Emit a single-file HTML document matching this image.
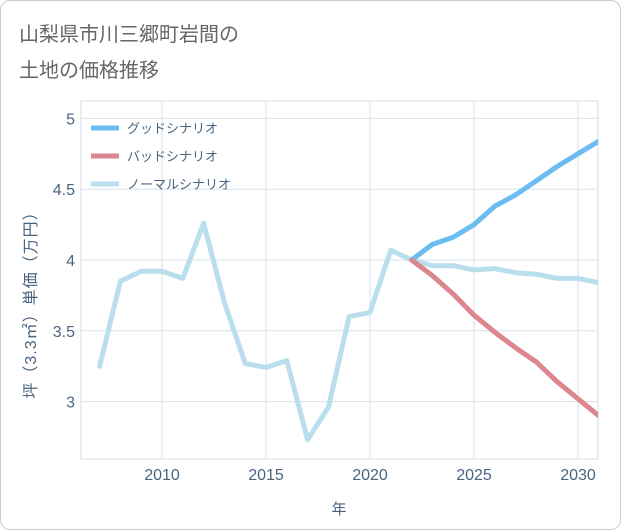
<!DOCTYPE html>
<html><head><meta charset="utf-8">
<style>
body{margin:0;background:#fff;}
#card{position:absolute;left:0;top:0;width:619px;height:528px;border:1px solid #ccc;border-radius:10px;background:#fff;overflow:hidden;}
svg{position:absolute;left:0;top:0;}
text{font-family:"Liberation Sans","Noto Sans CJK JP",sans-serif;}
</style></head>
<body>
<div id="card">
<svg id="chart" width="621" height="530"></svg>
</div>
<script>
const years=[2007,2008,2009,2010,2011,2012,2013,2014,2015,2016,2017,2018,2019,2020,2021,2022,2023,2024,2025,2026,2027,2028,2029,2030,2031];
const normal=[3.25,3.85,3.92,3.92,3.87,4.26,3.7,3.27,3.24,3.29,2.73,2.96,3.6,3.63,4.07,4.0,3.96,3.96,3.93,3.94,3.91,3.90,3.87,3.87,3.84];
const goodYears=[2022,2023,2024,2025,2026,2027,2028,2029,2030,2031];
const good=[4.0,4.11,4.16,4.25,4.38,4.46,4.56,4.66,4.75,4.84];
const bad=[4.0,3.89,3.76,3.61,3.49,3.38,3.28,3.14,3.02,2.90];
const xTicks=[2010,2015,2020,2025,2030];
const yTicks=[3,3.5,4,4.5,5];
const yTickLabels=["3","3.5","4","4.5","5"];
const NS="http://www.w3.org/2000/svg";
const svg=document.getElementById('chart');
const L=80,R=597,T=100,B=458;
const x=v=>98.6+(v-2007)*20.8;
const y=v=>259-(v-4)*141.6;
function mk(t,a){const e=document.createElementNS(NS,t);for(const k in a)e.setAttribute(k,a[k]);svg.appendChild(e);return e;}
function txt(s,a){const e=mk('text',a);e.textContent=s;return e;}
let e;
e=txt('山梨県市川三郷町岩間の',{x:18,y:40,'font-size':20,fill:'#666'});


e=txt('土地の価格推移',{x:18,y:76,'font-size':20,fill:'#666'});


e=mk('rect',{x:L,y:T,width:R-L,height:B-T,fill:'none',stroke:'#d0dde6'});


xTicks.forEach(v=>{
 e=mk('line',{x1:x(v),x2:x(v),y1:T,y2:B,stroke:'#d5e2ea'});
 
 
 e=txt(String(v),{x:x(v),y:479,'font-size':16,fill:'#4a6480','text-anchor':'middle'});
 
 
});
yTicks.forEach((v,i)=>{
 e=mk('line',{x1:L,x2:R,y1:y(v),y2:y(v),stroke:'#d5e2ea'});
 
 
 e=txt(yTickLabels[i],{x:74,y:y(v)+6,'font-size':16,fill:'#4a6480','text-anchor':'end'});
 
 
});
e=txt('年',{x:338,y:513,'font-size':15,fill:'#4a6480','text-anchor':'middle'});


e=txt('坪（3.3㎡）単価（万円）',{x:0,y:0,'font-size':16,fill:'#4a6480','text-anchor':'middle','letter-spacing':'1',transform:'translate(35,300) rotate(-90)'});


function line(xs,vs,color,name){
 const d=xs.map((v,i)=>(i?'L':'M')+x(v).toFixed(1)+','+y(vs[i]).toFixed(1)).join(' ');
 const p=mk('path',{d:d,fill:'none',stroke:color,'stroke-width':5,'stroke-linejoin':'round','stroke-linecap':'round'});
 
 
}
svg.insertAdjacentHTML('beforeend','<clipPath id="c"><rect x="80" y="100" width="517" height="358"/></clipPath>');
const g=mk('g',{'clip-path':'url(#c)'});
line(years,normal,'#b9dfed','normal-series-line');
line(goodYears,good,'#6bbcf0','good-series-line');
line(goodYears,bad,'#dc8790','bad-series-line');
[...svg.querySelectorAll('path')].forEach(p=>g.appendChild(p));
const leg=[['グッドシナリオ','#6bbcf0','legend-good'],['バッドシナリオ','#dc8790','legend-bad'],['ノーマルシナリオ','#b9dfed','legend-normal']];
leg.forEach((l,i)=>{
 const yy=127+i*28;
 e=mk('line',{x1:90,x2:118,y1:yy,y2:yy,stroke:l[1],'stroke-width':5});
 
 
 e=txt(l[0],{x:126,y:yy+5,'font-size':13,fill:'#4a6480'});
 
 
});
</script>
</body></html>
